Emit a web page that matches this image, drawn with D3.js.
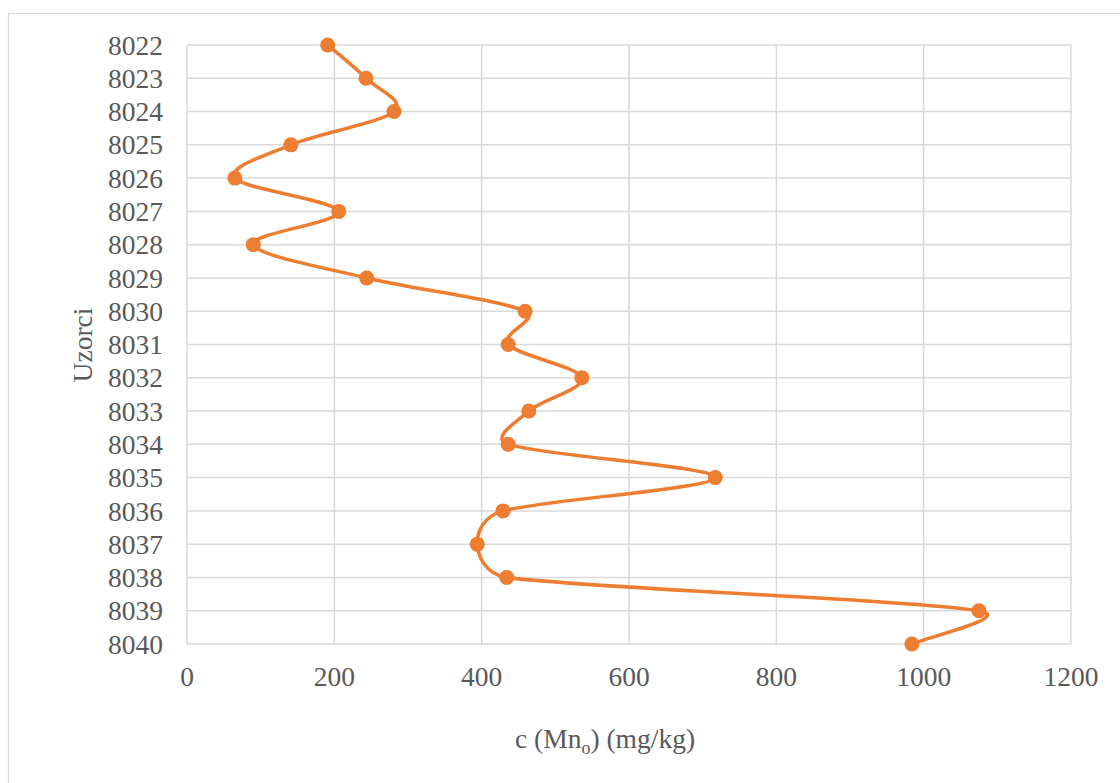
<!DOCTYPE html>
<html><head><meta charset="utf-8">
<script src="https://cdn.jsdelivr.net/npm/d3@7"></script>
<style>body{margin:0;background:#fff}svg{display:block}</style>
</head><body><svg id="c" width="1120" height="783"></svg>
<script>
const samples = ["8022","8023","8024","8025","8026","8027","8028","8029","8030","8031","8032","8033","8034","8035","8036","8037","8038","8039","8040"];
const values = [191,243,281,141,65,206,90,244,459,436,536,464,436,717,429,394,434,1075,984];
const xTicks = [0,200,400,600,800,1000,1200];
const xTitle = "c (Mn";
const yTitle = "Uzorci";

(function(){
const svg = d3.select("#c");
const pl = 187, pr = 1071, pt = 45, pb = 644;
const font = "'Liberation Serif', 'Times New Roman', serif";
const textColor = "#595959";

svg.append("rect").attr("x",8.5).attr("y",13.5).attr("width",1300).attr("height",1000)
  .attr("fill","#fff").attr("stroke","#d9d9d9").attr("stroke-width",1.3);

const x = d3.scaleLinear().domain([0,1200]).range([pl,pr]);
const y = d3.scalePoint().domain(samples).range([pt,pb]);

svg.append("g").selectAll("line").data(xTicks).join("line")
  .attr("x1",d=>x(d)).attr("x2",d=>x(d)).attr("y1",pt).attr("y2",pb)
  .attr("stroke","#d9d9d9").attr("stroke-width",1.5);
svg.append("g").selectAll("line").data(samples).join("line")
  .attr("x1",pl).attr("x2",pr).attr("y1",d=>y(d)).attr("y2",d=>y(d))
  .attr("stroke","#d9d9d9").attr("stroke-width",1.5);

svg.append("g").selectAll("text").data(xTicks).join("text")
  .attr("x",d=>x(d)).attr("y",686).attr("text-anchor","middle")
  .attr("font-family",font).attr("font-size",27.5).attr("fill",textColor).text(d=>d);
svg.append("g").selectAll("text").data(samples).join("text")
  .attr("x",163).attr("y",d=>y(d)).attr("dy","0.35em").attr("text-anchor","end")
  .attr("font-family",font).attr("font-size",27.5).attr("fill",textColor).text(d=>d);

const xt = svg.append("text").attr("x",605).attr("y",748).attr("text-anchor","middle")
  .attr("font-family",font).attr("font-size",27.5).attr("fill",textColor);
xt.append("tspan").text(xTitle);
xt.append("tspan").attr("font-size",18).attr("dy",6).text("o");
xt.append("tspan").attr("dy",-6).text(") (mg/kg)");

svg.append("text").attr("transform","translate(92,345) rotate(-90)").attr("text-anchor","middle")
  .attr("font-family",font).attr("font-size",27.5).attr("fill",textColor).text(yTitle);

// Excel-like smoothed line: Bezier with 1/6 tangents, clamped to half of adjacent segment
function smoothPath(pts){
  const n = pts.length, p = d3.path();
  const dist = (a,b)=>Math.hypot(a[0]-b[0], a[1]-b[1]);
  const cin = [], cout = [];
  for (let i=0;i<n;i++){
    const P0 = pts[Math.max(i-1,0)], P1 = pts[i], P2 = pts[Math.min(i+1,n-1)];
    const d02 = dist(P0,P2), d01 = dist(P0,P1), d12 = dist(P1,P2);
    let fin = 1/6, fout = 1/6;
    if (d02>0){
      if (d02*fin > d01/2) fin = d01/(2*d02);
      if (d02*fout > d12/2) fout = d12/(2*d02);
    }
    const tx = P2[0]-P0[0], ty = P2[1]-P0[1];
    cin[i] = [P1[0]-tx*fin, P1[1]-ty*fin];
    cout[i] = [P1[0]+tx*fout, P1[1]+ty*fout];
  }
  p.moveTo(pts[0][0], pts[0][1]);
  for (let i=0;i<n-1;i++){
    p.bezierCurveTo(cout[i][0],cout[i][1],cin[i+1][0],cin[i+1][1],pts[i+1][0],pts[i+1][1]);
  }
  return p.toString();
}

const pts = samples.map((s,i)=>[x(values[i]), y(s)]);
svg.append("path").attr("d", smoothPath(pts))
  .attr("fill","none").attr("stroke","#ED7D31").attr("stroke-width",3.5).attr("stroke-linejoin","round");
svg.append("g").selectAll("circle").data(pts).join("circle")
  .attr("cx",d=>d[0]).attr("cy",d=>d[1]).attr("r",7.5).attr("fill","#ED7D31");
})();
</script></body></html>
